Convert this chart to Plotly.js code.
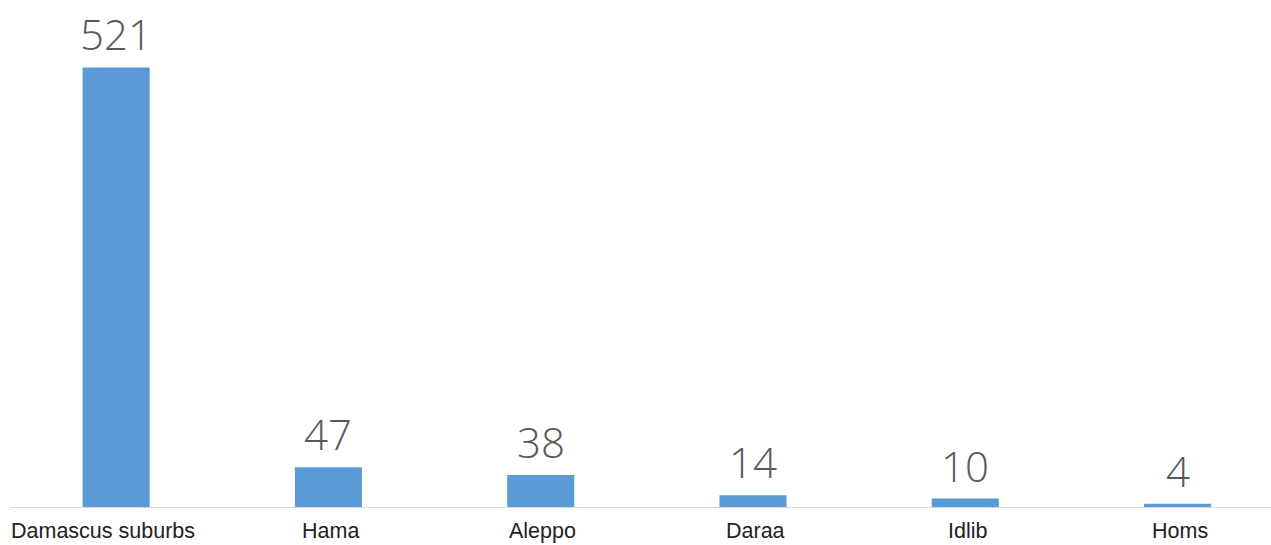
<!DOCTYPE html>
<html>
<head>
<meta charset="utf-8">
<script src="https://cdn.plot.ly/plotly-3.0.1.min.js"></script>
<style>html,body{margin:0;padding:0;background:#fff;}#chart{width:1271px;height:545px;}</style>
</head>
<body>
<div id="chart"></div>
<script>
const categories = ["Damascus suburbs", "Hama", "Aleppo", "Daraa", "Idlib", "Homs"];
const values = [521, 47, 38, 14, 10, 4];

const trace = {
  type: "bar",
  x: categories,
  y: values,
  marker: {color: "#5b9bd5"},
  hoverinfo: "x+y"
};

const valueLabels = categories.map((c, i) => ({
  x: i, y: values[i], xref: "x", yref: "y",
  text: String(values[i]), showarrow: false,
  yanchor: "bottom", yshift: 3,
  font: {family: "Open Sans, Liberation Sans, sans-serif", size: 42, color: "#595959", weight: 300}
}));

const categoryLabels = categories.map((c, i) => ({
  x: i === 0 ? -0.5 : i, y: 0, xref: "x", yref: "paper",
  text: c, showarrow: false,
  xanchor: i === 0 ? "left" : "center",
  xshift: i === 0 ? 0 : 2,
  yanchor: "top", yshift: -11, borderpad: 0,
  font: {family: "Liberation Sans, Arial, sans-serif", size: 21.5, color: "#222"}
}));

const layout = {
  width: 1271, height: 545,
  margin: {l: 10, r: 0, t: 0, b: 38},
  paper_bgcolor: "#fff", plot_bgcolor: "#fff",
  bargap: 0.684,
  showlegend: false,
  xaxis: {
    type: "category",
    range: [-0.5, 5.44],
    showline: true, linecolor: "#d9d9d9", linewidth: 1,
    showgrid: false, zeroline: false, ticks: "",
    showticklabels: false
  },
  yaxis: {
    range: [0, 601],
    showgrid: false, zeroline: false, showline: false,
    showticklabels: false, ticks: ""
  },
  annotations: valueLabels.concat(categoryLabels)
};

Plotly.newPlot("chart", [trace], layout, {displayModeBar: false, staticPlot: true});
</script>
</body>
</html>
